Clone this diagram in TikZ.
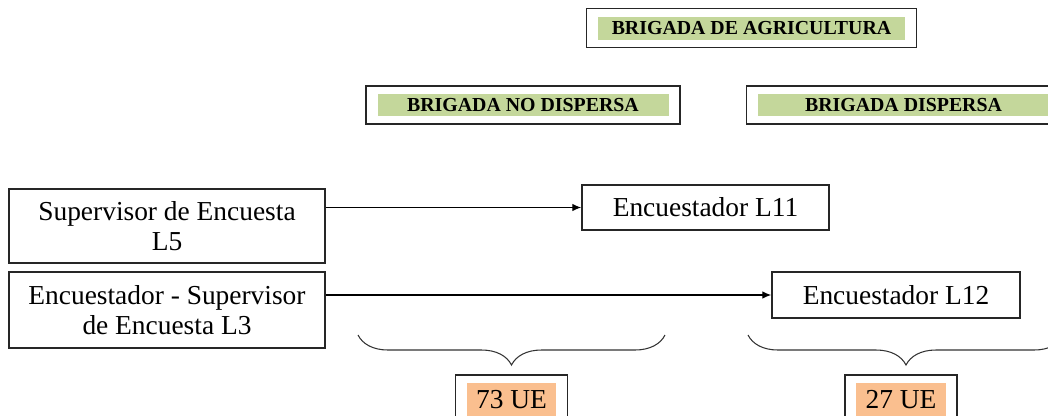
\documentclass[tikz,border=0pt]{standalone}
\usepackage{fontspec}
\setmainfont{Liberation Serif}
\usepackage{tikz}
\usetikzlibrary{arrows, arrows.meta, positioning, fit, decorations.pathreplacing}
\definecolor{agrigreen}{HTML}{C4D79B}
\definecolor{ueorange}{HTML}{FABF8F}
\tikzstyle{arrow} = [semithick,->,>={Latex[length=5pt,width=4.2pt]}]
\tikzstyle{box} = [draw=black!85, line width=0.9pt, align=center, inner sep=0pt, font=\fontsize{15.6}{17}\selectfont]
\tikzstyle{tag} = [fill=agrigreen, minimum width=5.82cm, minimum height=0.44cm, inner sep=0pt, font=\bfseries\fontsize{11.3}{13}\selectfont]
\tikzstyle{frame} = [draw=black!85, line width=0.9pt, inner xsep=0.22cm, inner ysep=0.15cm]
\tikzstyle{ue} = [fill=ueorange, minimum width=1.79cm, minimum height=0.68cm, inner sep=0pt, font=\fontsize{15.6}{17}\selectfont]
\tikzstyle{brace} = [decorate, decoration={brace, amplitude=0.6cm}, line width=0.6pt, black!80]

\begin{document}
\begin{tikzpicture}
\useasboundingbox (0,0) rectangle (20.96,-8.30);

% brigadas
\node[tag, minimum width=6.14cm, minimum height=0.46cm] (agri) at (15.03,-0.56) {BRIGADA DE AGRICULTURA};
\node[frame, fit=(agri)] (agribox) {};
\foreach \name/\x/\txt in {nodisp/10.46/BRIGADA NO DISPERSA, disp/18.07/BRIGADA DISPERSA} {
    \node[tag] (\name) at (\x,-2.10) {\txt};
    \node[frame, fit=(\name)] (\name box) {};
}

% personal
\node[box, minimum width=6.32cm, minimum height=1.48cm] (sup5) at (3.34,-4.52) {Supervisor de Encuesta\\L5};
\node[box, minimum width=6.32cm, minimum height=1.52cm] (sup3) at (3.34,-6.20) {Encuestador - Supervisor\\de Encuesta L3};
\node[box, minimum width=4.94cm, minimum height=0.90cm] (l11) at (14.11,-4.15) {Encuestador L11};
\node[box, minimum width=4.96cm, minimum height=0.92cm] (l12) at (17.92,-5.90) {Encuestador L12};

\draw[arrow] (sup5.east |- l11.west) -- (l11.west);
\draw[arrow] (sup3.east |- l12.west) -- (l12.west);

% unidades
\coordinate (b1l) at (7.16,-6.70);
\coordinate (b1r) at (13.30,-6.70);
\coordinate (b2l) at (14.96,-6.70);
\coordinate (b2r) at (21.28,-6.70);
\draw[brace] (b1r) -- (b1l);
\draw[brace] (b2r) -- (b2l);

\node[ue] (ue73) at (10.23,-8.00) {73 UE};
\node[frame, fit=(ue73)] (ue73box) {};
\node[ue] (ue27) at (18.02,-8.00) {27 UE};
\node[frame, fit=(ue27)] (ue27box) {};
\end{tikzpicture}
\end{document}
